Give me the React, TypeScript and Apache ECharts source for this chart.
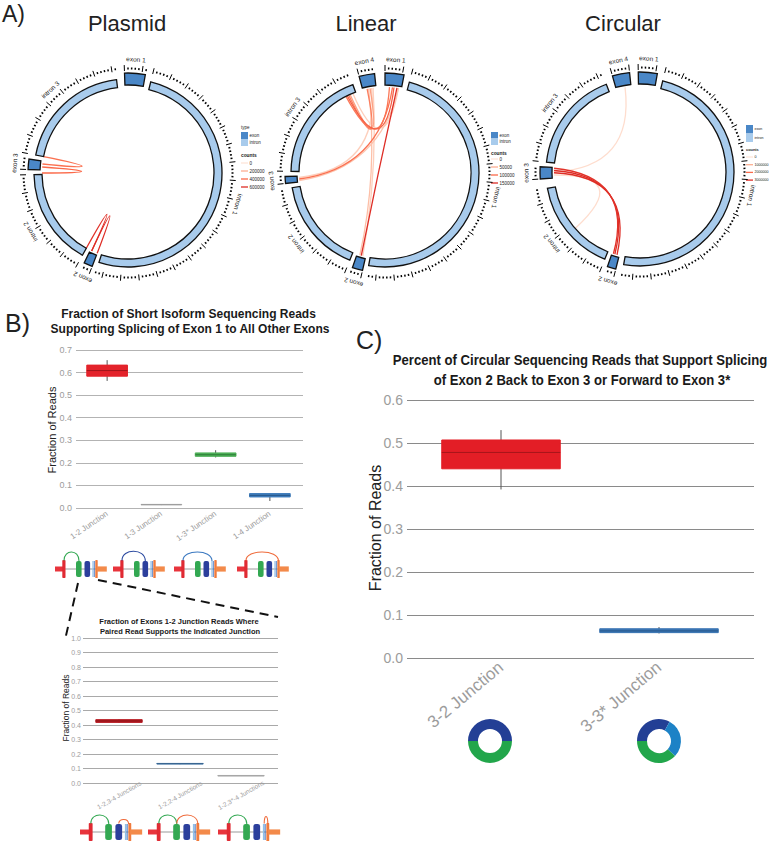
import React, { useEffect, useRef } from 'react';
import * as echarts from 'echarts';

const FONT = "'Liberation Sans', Arial, Helvetica, sans-serif";
const D2R = Math.PI / 180;

// ---------------- Panel A data ----------------
const segNamesPlasmid = ['exon 1', 'intron 1', 'exon 2', 'intron 2', 'exon 3', 'intron 3'];
const segTypesPlasmid = ['exon', 'intron', 'exon', 'intron', 'exon', 'intron'];
const segStartPlasmid = [-2, 14, 201, 209, 272, 281];
const segEndPlasmid = [10, 198, 206, 269, 278, 353];
const linksPlasmid = [
  [281, 276, 380000],
  [274, 270, 400000],
  [209, 205, 580000],
  [205, 201, 600000],
];
const countsPlasmid = [0, 200000, 400000, 600000];

const segNamesLinear = ['exon 1', 'intron 1', 'exon 2', 'intron 2', 'exon 3', 'intron 3', 'exon 4'];
const segTypesLinear = ['exon', 'intron', 'exon', 'intron', 'exon', 'intron', 'exon'];
const segStartLinear = [0, 15, 193, 202, 264, 271, 345];
const segEndLinear = [11, 190, 199, 261, 268, 340, 354];
const linksLinear = [
  [352, 195, 20000],
  [349, 197, 35000],
  [338, 9, 20000],
  [265, 9, 30000],
  [267, 351, 20000],
  [336, 350, 60000],
  [335, 348, 85000],
  [333, 3, 90000],
  [334, 6, 110000],
  [266, 5, 95000],
  [8, 196, 150000],
];
const countsLinear = [0, 50000, 100000, 150000];

const segNamesCircular = ['exon 1', 'intron 1', 'exon 2', 'intron 2', 'exon 3', 'intron 3', 'exon 4'];
const segTypesCircular = ['exon', 'intron', 'exon', 'intron', 'exon', 'intron', 'exon'];
const segStartCircular = [-1, 14, 194, 202, 266, 276, 344];
const segEndCircular = [10, 190, 199, 260, 273, 339, 354];
const linksCircular = [
  [350, 270, 150000],
  [268, 229, 150000],
  [269.5, 195.5, 3000000],
  [271, 197, 3000000],
  [272.5, 198, 2900000],
];
const countsCircular = [0, 1000000, 2000000, 3000000];

// ---------------- Panel B data ----------------
const shortJunctions = ['1-2 Junction', '1-3 Junction', '1-3* Junction', '1-4 Junction'];
// [low, q1, median, q3, high]
const shortStats = [
  [0.563, 0.584, 0.609, 0.633, 0.655],
  [0.013, 0.014, 0.015, 0.016, 0.017],
  [0.224, 0.229, 0.236, 0.244, 0.256],
  [0.031, 0.049, 0.056, 0.064, 0.064],
];
const shortFill = ['#e3232b', '#b8b8b8', '#4cae55', '#3f7cba'];
const shortMedian = ['#a3161c', '#9a9a9a', '#2f7f3a', '#27578a'];

const pairedJunctions = ['1-2,3-4 Junctions', '1-2,2-4 Junctions', '1-2,3*-4 Junctions'];
const pairedStats = [
  [0.415, 0.418, 0.428, 0.437, 0.44],
  [0.13, 0.131, 0.133, 0.135, 0.136],
  [0.048, 0.049, 0.05, 0.052, 0.053],
];
const pairedFill = ['#b81d24', '#4a7fb0', '#bdbdbd'];
const pairedMedian = ['#8a1217', '#35608a', '#a0a0a0'];

// ---------------- Panel C data ----------------
const circJunctions = ['3-2 Junction', '3-3* Junction'];
const circStats = [
  [0.392, 0.44, 0.478, 0.507, 0.53],
  [0.057, 0.059, 0.063, 0.068, 0.072],
];
const circFill = ['#e31e26', '#3a75b3'];
const circMedian = ['#a8151b', '#27578a'];

const donut1Values = [50, 50];
const donut1Colors = ['#233f95', '#22a64b'];
const donut2Values = [33, 29, 38];
const donut2Colors = ['#233f95', '#1d82c6', '#22a64b'];

// ---------------- helpers ----------------
const REDS = ['#fee5d9', '#fcae91', '#fb6a4a', '#de2d26'];
function hexToRgb(h: string) {
  return [parseInt(h.slice(1, 3), 16), parseInt(h.slice(3, 5), 16), parseInt(h.slice(5, 7), 16)];
}
function countColor(t: number) {
  const tt = Math.max(0, Math.min(1, t)) * (REDS.length - 1);
  const i = Math.min(REDS.length - 2, Math.floor(tt));
  const f = tt - i;
  const a = hexToRgb(REDS[i]);
  const b = hexToRgb(REDS[i + 1]);
  const c = a.map((v, k) => Math.round(v + (b[k] - v) * f));
  return `rgb(${c[0]},${c[1]},${c[2]})`;
}

const EXON_FILL = '#4a87c7';
const INTRON_FILL = '#a8cbec';

type CircleCfg = {
  names: string[]; types: string[]; starts: number[]; ends: number[];
  links: number[][]; counts: number[]; cx: number; cy: number;
};

const circles: CircleCfg[] = [
  { names: segNamesPlasmid, types: segTypesPlasmid, starts: segStartPlasmid, ends: segEndPlasmid, links: linksPlasmid, counts: countsPlasmid, cx: 128, cy: 173 },
  { names: segNamesLinear, types: segTypesLinear, starts: segStartLinear, ends: segEndLinear, links: linksLinear, counts: countsLinear, cx: 385, cy: 173 },
  { names: segNamesCircular, types: segTypesCircular, starts: segStartCircular, ends: segEndCircular, links: linksCircular, counts: countsCircular, cx: 640, cy: 172 },
];

const legendLayouts = [
  { x: 241, typeY: 127, sqTop: 132, sqH: 7, countsY: 155, lineTop: 163, lineStep: 8, fs: 4.5 },
  { x: 491, typeY: -1, sqTop: 132, sqH: 6.5, countsY: 153, lineTop: 159, lineStep: 8, fs: 4.5 },
  { x: 746, typeY: -1, sqTop: 125, sqH: 8.5, countsY: 149, lineTop: 157, lineStep: 7.7, fs: 3.6 },
];

function circleSeries(ci: number, cfg: CircleCfg) {
  const maxC = cfg.counts[cfg.counts.length - 1];
  const pt = (a: number, r: number) => [r * Math.sin(a * D2R), r * Math.cos(a * D2R)];
  const links = {
    type: 'custom', xAxisIndex: ci, yAxisIndex: ci, silent: true, clip: false,
    data: cfg.links,
    renderItem: (_p: any, api: any) => {
      const a1 = api.value(0), a2 = api.value(1), cnt = api.value(2);
      const p0 = pt(a1, 0.86), p2 = pt(a2, 0.86);
      const sx = p0[0] + p2[0], sy = p0[1] + p2[1];
      const len = Math.hypot(sx, sy) || 1;
      const P0 = api.coord(p0), P2 = api.coord(p2), C = api.coord([sx / len * 0.07, sy / len * 0.07]);
      return {
        type: 'bezierCurve',
        shape: { x1: P0[0], y1: P0[1], x2: P2[0], y2: P2[1], cpx1: C[0], cpy1: C[1] },
        style: { stroke: countColor(cnt / maxC), lineWidth: 1.3, fill: 'none' },
      };
    },
  };
  const segs = {
    type: 'custom', xAxisIndex: ci, yAxisIndex: ci, silent: true, clip: false,
    data: cfg.starts.map((s, i) => [s, cfg.ends[i]]),
    renderItem: (params: any, api: any) => {
      const i = params.dataIndex;
      const a1 = api.value(0), a2 = api.value(1);
      const c = api.coord([0, 0]);
      const u = api.size([1, 0])[0];
      const isExon = cfg.types[i] === 'exon';
      const r0 = (isExon ? 0.88 : 0.86) * u;
      const r = (isExon ? 1.0 : 0.94) * u;
      const children: any[] = [{
        type: 'sector',
        shape: { cx: c[0], cy: c[1], r0, r, startAngle: (a1 - 90) * D2R, endAngle: (a2 - 90) * D2R, clockwise: true },
        style: { fill: isExon ? EXON_FILL : INTRON_FILL, stroke: '#111', lineWidth: 1.3 },
      }];
      let k = 0;
      for (let a = a1; a <= a2 + 1e-6; a += 2, k++) {
        const major = k % 5 === 0;
        const pIn = api.coord(pt(a, major ? 1.02 : 1.035));
        const pOut = api.coord(pt(a, major ? 1.08 : 1.055));
        children.push({
          type: 'line',
          shape: { x1: pIn[0], y1: pIn[1], x2: pOut[0], y2: pOut[1] },
          style: { stroke: '#000', lineWidth: major ? 1 : 1.5 },
        });
      }
      const mid = (a1 + a2) / 2;
      const pl = api.coord(pt(mid, 1.14));
      children.push({
        type: 'text', x: pl[0], y: pl[1], rotation: -mid * D2R,
        style: { text: cfg.names[i], fontSize: 6.5, fontFamily: FONT, fill: '#222', align: 'center', verticalAlign: 'middle' },
      });
      return { type: 'group', children };
    },
  };
  return [links, segs];
}

function boxRender(fills: string[], medians: string[], frac: number) {
  return (params: any, api: any) => {
    const i = params.dataIndex;
    const x = api.value(0);
    const pLow = api.coord([x, api.value(1)]);
    const pQ1 = api.coord([x, api.value(2)]);
    const pMed = api.coord([x, api.value(3)]);
    const pQ3 = api.coord([x, api.value(4)]);
    const pHigh = api.coord([x, api.value(5)]);
    const w = api.size([1, 0])[0] * frac;
    const cx = pMed[0];
    return {
      type: 'group',
      children: [
        { type: 'line', shape: { x1: cx, y1: pLow[1], x2: cx, y2: pHigh[1] }, style: { stroke: '#555', lineWidth: 1 } },
        { type: 'rect', shape: { x: cx - w / 2, y: pQ3[1], width: w, height: Math.max(pQ1[1] - pQ3[1], 0.5) }, style: { fill: fills[i], stroke: fills[i], lineWidth: 1 } },
        { type: 'line', shape: { x1: cx - w / 2, y1: pMed[1], x2: cx + w / 2, y2: pMed[1] }, style: { stroke: medians[i], lineWidth: 1 } },
      ],
    };
  };
}

function text(x: number, y: number, s: string, size: number, opts: any = {}) {
  const { weight, fill, align, rotation, scaleX } = opts;
  return {
    type: 'text', x, y, rotation: rotation || 0, scaleX: scaleX || 1, silent: true,
    style: { text: s, fontSize: size, fontFamily: FONT, fontWeight: weight || 'normal', fill: fill || '#222', align: align || 'center', verticalAlign: 'middle' },
  };
}

function legendEls(li: number) {
  const L = legendLayouts[li];
  const cfg = circles[li];
  const maxC = cfg.counts[cfg.counts.length - 1];
  const els: any[] = [];
  if (L.typeY > 0) els.push(text(L.x, L.typeY, 'type', L.fs, { align: 'left' }));
  els.push({ type: 'rect', shape: { x: L.x, y: L.sqTop, width: 7, height: L.sqH }, style: { fill: EXON_FILL } });
  els.push({ type: 'rect', shape: { x: L.x, y: L.sqTop + L.sqH, width: 7, height: L.sqH }, style: { fill: INTRON_FILL } });
  els.push(text(L.x + 8.5, L.sqTop + L.sqH / 2, 'exon', L.fs, { align: 'left' }));
  els.push(text(L.x + 8.5, L.sqTop + L.sqH * 1.5, 'intron', L.fs, { align: 'left' }));
  els.push(text(L.x, L.countsY, 'counts', L.fs + 0.3, { align: 'left', weight: 'bold' }));
  cfg.counts.forEach((c, k) => {
    const y = L.lineTop + k * L.lineStep;
    els.push({ type: 'line', shape: { x1: L.x, y1: y, x2: L.x + 7, y2: y }, style: { stroke: countColor(c / maxC), lineWidth: 1.3 } });
    els.push(text(L.x + 8.5, y, String(c), L.fs, { align: 'left' }));
  });
  return els;
}

// gene structure icon (decorative)
function geneIcon(x: number, y: number, sx: number, arcs: any[]) {
  const children: any[] = [
    { type: 'line', shape: { x1: 4, y1: 0, x2: 48, y2: 0 }, style: { stroke: '#9a9a9a', lineWidth: 1 } },
    { type: 'rect', shape: { x: 0, y: -2.5, width: 9, height: 5 }, style: { fill: '#e8343c' } },
    { type: 'rect', shape: { x: 7.3, y: -9, width: 3.2, height: 18, r: 0.8 }, style: { fill: '#e02a33' } },
    { type: 'rect', shape: { x: 21, y: -8, width: 5.6, height: 16, r: 2 }, style: { fill: '#33a852' } },
    { type: 'rect', shape: { x: 29.5, y: -8, width: 5.6, height: 16, r: 2 }, style: { fill: '#2c3f9c' } },
    { type: 'rect', shape: { x: 37.4, y: -8, width: 1, height: 16 }, style: { fill: '#8fc0e8' } },
    { type: 'rect', shape: { x: 38.8, y: -8, width: 0.9, height: 16 }, style: { fill: '#3a6fbf' } },
    { type: 'rect', shape: { x: 40.3, y: -9, width: 2.4, height: 18, r: 0.6 }, style: { fill: '#f07a3c' } },
    { type: 'rect', shape: { x: 41.8, y: -2.6, width: 10, height: 5.2 }, style: { fill: '#f38a4a' } },
  ];
  arcs.forEach((a) => {
    const [x1, x2, col, h] = a;
    children.push({
      type: 'bezierCurve',
      shape: { x1, y1: -8.5, x2, y2: -8, cpx1: x1, cpy1: h, cpx2: x2, cpy2: h },
      style: { stroke: col, lineWidth: 1.1 / sx, fill: 'none' },
    });
  });
  return { type: 'group', x, y, scaleX: sx, scaleY: 1, silent: true, children };
}

const topIconX = [55, 113, 174, 237];
const topIconArcs = [
  [[9, 24, '#33a852', -20]],
  [[9, 32.3, '#2c4aa0', -21]],
  [[9, 38, '#3a78c0', -20]],
  [[9, 41.5, '#ef6a3a', -20]],
];
const bottomIconX = [80, 148, 218];
const bottomIconArcs = [
  [[9, 24, '#33a852', -20], [32.3, 40.5, '#ef6a3a', -14]],
  [[9, 24, '#33a852', -20], [24, 41.5, '#ef6a3a', -20]],
  [[9, 24, '#33a852', -20], [38.5, 41.5, '#ef6a3a', -18]],
];

function buildOption() {
  const grid: any[] = [];
  const xAxis: any[] = [];
  const yAxis: any[] = [];
  const series: any[] = [];

  // circles: grids 0..2
  circles.forEach((c, ci) => {
    grid.push({ left: c.cx - 125, top: c.cy - 125, width: 250, height: 250, outerBoundsMode: 'none', containLabel: false });
    xAxis.push({ gridIndex: ci, type: 'value', min: -1.25, max: 1.25, show: false });
    yAxis.push({ gridIndex: ci, type: 'value', min: -1.25, max: 1.25, show: false });
    series.push(...circleSeries(ci, c));
  });

  const bgAxisY = (gi: number, max: number, fs: number, margin: number, lineColor: string) => ({
    gridIndex: gi, type: 'value', min: 0, max, interval: 0.1,
    axisLine: { show: false }, axisTick: { show: false },
    axisLabel: { fontSize: fs, color: '#9c9c9c', margin, formatter: (v: number) => v.toFixed(1), fontFamily: FONT },
    splitLine: { show: true, lineStyle: { color: lineColor, width: 1 } },
  });
  const hiddenY = (gi: number, max: number) => ({ gridIndex: gi, type: 'value', min: 0, max, show: false, splitLine: { show: false } });
  const catX = (gi: number, data: string[], fs: number, rotate: number, margin: number, extra: any = {}) => ({
    gridIndex: gi, type: 'category', data,
    axisLine: { show: false }, axisTick: { show: false }, splitLine: { show: false },
    axisLabel: { interval: 0, rotate, fontSize: fs, color: '#9c9c9c', margin, fontFamily: FONT, ...extra },
  });

  // B top: grid 3 (bg), 4 (data)
  grid.push({ left: 76, top: 350, width: 227, height: 158, outerBoundsMode: 'none', containLabel: false });
  xAxis.push({ gridIndex: 3, type: 'value', show: false });
  yAxis.push(bgAxisY(3, 0.7, 9, 4, '#b3b3b3'));
  grid.push({ left: 80, top: 350, width: 217, height: 158, outerBoundsMode: 'none', containLabel: false });
  xAxis.push(catX(4, shortJunctions, 8, 34, 5));
  yAxis.push(hiddenY(4, 0.7));
  series.push({
    type: 'custom', xAxisIndex: 4, yAxisIndex: 4, silent: true,
    encode: { x: 0, y: [1, 2, 3, 4, 5] },
    data: shortStats.map((s, i) => [i, ...s]),
    renderItem: boxRender(shortFill, shortMedian, 0.75),
  });

  // B bottom: grid 5, 6
  grid.push({ left: 83, top: 638, width: 195, height: 145, outerBoundsMode: 'none', containLabel: false });
  xAxis.push({ gridIndex: 5, type: 'value', show: false });
  yAxis.push(bgAxisY(5, 1.0, 7, 2, '#a9a9a9'));
  grid.push({ left: 88.5, top: 638, width: 183, height: 145, outerBoundsMode: 'none', containLabel: false });
  xAxis.push(catX(6, pairedJunctions, 6.5, 30, 12, { align: 'center', verticalAlign: 'middle' }));
  yAxis.push(hiddenY(6, 1.0));
  series.push({
    type: 'custom', xAxisIndex: 6, yAxisIndex: 6, silent: true,
    encode: { x: 0, y: [1, 2, 3, 4, 5] },
    data: pairedStats.map((s, i) => [i, ...s]),
    renderItem: boxRender(pairedFill, pairedMedian, 0.76),
  });

  // C: grid 7, 8
  grid.push({ left: 407, top: 400, width: 347, height: 258, outerBoundsMode: 'none', containLabel: false });
  xAxis.push({ gridIndex: 7, type: 'value', show: false });
  yAxis.push(bgAxisY(7, 0.6, 14, 4, '#8a8a8a'));
  grid.push({ left: 422, top: 400, width: 316, height: 258, outerBoundsMode: 'none', containLabel: false });
  xAxis.push(catX(8, circJunctions, 17, 40, 7));
  yAxis.push(hiddenY(8, 0.6));
  series.push({
    type: 'custom', xAxisIndex: 8, yAxisIndex: 8, silent: true,
    encode: { x: 0, y: [1, 2, 3, 4, 5] },
    data: circStats.map((s, i) => [i, ...s]),
    renderItem: boxRender(circFill, circMedian, 0.75),
  });

  // donuts
  const donut = (center: number[], values: number[], colors: string[]) => ({
    type: 'pie', center, radius: [12, 22], startAngle: 180, clockwise: true, silent: true,
    label: { show: false }, labelLine: { show: false },
    itemStyle: { borderWidth: 0 },
    data: values.map((v, i) => ({ value: v, itemStyle: { color: colors[i] } })),
  });
  series.push(donut([490, 741], donut1Values, donut1Colors));
  series.push(donut([659, 741], donut2Values, donut2Colors));

  const graphic: any[] = [
    text(2, 14, 'A)', 23, { align: 'left' }),
    text(5, 323, 'B)', 25, { align: 'left' }),
    text(356, 340, 'C)', 25, { align: 'left' }),
    text(127, 23, 'Plasmid', 22),
    text(366, 23, 'Linear', 22),
    text(623, 23, 'Circular', 22),
    text(188.5, 314, 'Fraction of Short Isoform Sequencing Reads', 12, { weight: 'bold', fill: '#1a1a1a' }),
    text(190, 329, 'Supporting Splicing of Exon 1 to All Other Exons', 12, { weight: 'bold', fill: '#1a1a1a' }),
    text(179, 621, 'Fraction of Exons 1-2 Junction Reads Where', 8, { weight: 'bold', fill: '#1a1a1a', scaleX: 0.94 }),
    text(180, 631, 'Paired Read Supports the Indicated Junction', 8, { weight: 'bold', fill: '#1a1a1a', scaleX: 0.94 }),
    text(580, 360, 'Percent of Circular Sequencing Reads that Support Splicing', 15, { weight: 'bold', fill: '#1a1a1a', scaleX: 0.875 }),
    text(582, 380, 'of Exon 2 Back to Exon 3 or Forward to Exon 3*', 15, { weight: 'bold', fill: '#1a1a1a', scaleX: 0.875 }),
    text(52, 430, 'Fraction of Reads', 11, { rotation: Math.PI / 2 }),
    text(66, 708, 'Fraction of Reads', 8.5, { rotation: Math.PI / 2 }),
    text(375, 528, 'Fraction of Reads', 16, { rotation: Math.PI / 2 }),
    { type: 'line', shape: { x1: 78, y1: 583, x2: 65, y2: 640 }, style: { stroke: '#111', lineWidth: 2, lineDash: [9, 6] } },
    { type: 'line', shape: { x1: 98, y1: 580, x2: 278, y2: 617 }, style: { stroke: '#111', lineWidth: 2, lineDash: [9, 6] } },
  ];
  [0, 1, 2].forEach((li) => graphic.push(...legendEls(li)));
  topIconX.forEach((x, i) => graphic.push(geneIcon(x, 569, 1, topIconArcs[i])));
  bottomIconX.forEach((x, i) => graphic.push(geneIcon(x, 832, 1.2, bottomIconArcs[i])));

  return {
    animation: false,
    backgroundColor: '#ffffff',
    textStyle: { fontFamily: FONT },
    grid, xAxis, yAxis, series, graphic,
  };
}

export default function App() {
  const ref = useRef<HTMLDivElement>(null);
  useEffect(() => {
    const chart = echarts.init(ref.current as HTMLDivElement, null, { renderer: 'svg' });
    chart.setOption(buildOption() as any);
    return () => chart.dispose();
  }, []);
  return <div ref={ref} style={{ position: 'absolute', left: 0, top: 0, width: 771, height: 842, background: '#fff' }} />;
}
